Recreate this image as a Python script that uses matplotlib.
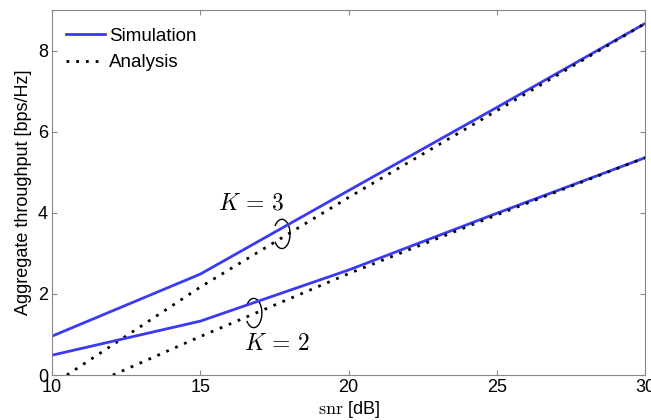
import numpy as np
import matplotlib
matplotlib.use('Agg')
import matplotlib.pyplot as plt
from matplotlib.patches import Arc

plt.rcParams['font.family'] = ['Liberation Sans', 'DejaVu Sans']
plt.rcParams['mathtext.fontset'] = 'cm'

# simulation results
snr_sim = [10, 15, 20, 25, 30]
sim_k3 = [0.96, 2.49, 4.55, 6.6, 8.67]
sim_k2 = [0.49, 1.33, 2.59, 3.99, 5.36]

# analysis (high snr approximation)
snr_k3 = [10.5, 15, 20, 25, 30]
ana_k3 = [0.0, 2.17, 4.38, 6.52, 8.67]
snr_k2 = [12.05, 15, 20, 25, 30]
ana_k2 = [0.0, 0.95, 2.5, 3.95, 5.36]

blue = '#3a3af0'

fig = plt.figure(figsize=(6.51, 4.2), dpi=100)
ax = fig.add_axes([0.080, 0.107, 0.911, 0.869])

ax.plot(snr_sim, sim_k3, color=blue, lw=2.0, label='Simulation')
ax.plot(snr_k3, ana_k3, color='black', lw=2.0, ls=(0, (1, 2.5)), label='Analysis')
ax.plot(snr_sim, sim_k2, color=blue, lw=2.0)
ax.plot(snr_k2, ana_k2, color='black', lw=2.0, ls=(0, (1, 2.5)))

# ellipse markers grouping each pair of curves
ax.add_patch(Arc((17.75, 3.48), 0.55, 0.72, theta1=-140, theta2=140, color='black', lw=1.0))
ax.add_patch(Arc((16.8, 1.53), 0.55, 0.72, theta1=-140, theta2=140, color='black', lw=1.0))
ax.text(16.7, 4.24, r'$K\,=\,3$', fontsize=17, ha='center', va='center')
ax.text(17.6, 0.76, r'$K\,=\,2$', fontsize=17, ha='center', va='center')

ax.set_xlim(10, 30)
ax.set_ylim(0, 9)
ax.set_xticks([10, 15, 20, 25, 30])
ax.set_yticks([0, 2, 4, 6, 8])
ax.tick_params(direction='in', top=True, right=True, labelsize=13, color='#888888', pad=3)
for s in ax.spines.values():
    s.set_color('#888888')

ax.set_xlabel(r'$\mathrm{snr}$ [dB]', fontsize=13, labelpad=2)
ax.set_ylabel('Aggregate throughput [bps/Hz]', fontsize=13, labelpad=4)

ax.legend(loc='upper left', bbox_to_anchor=(-0.012, 1.008), frameon=False,
          fontsize=13.5, handlelength=2.1, handletextpad=0.2, labelspacing=0.5,
          borderaxespad=0.7)

fig.savefig('out.png', dpi=100)
